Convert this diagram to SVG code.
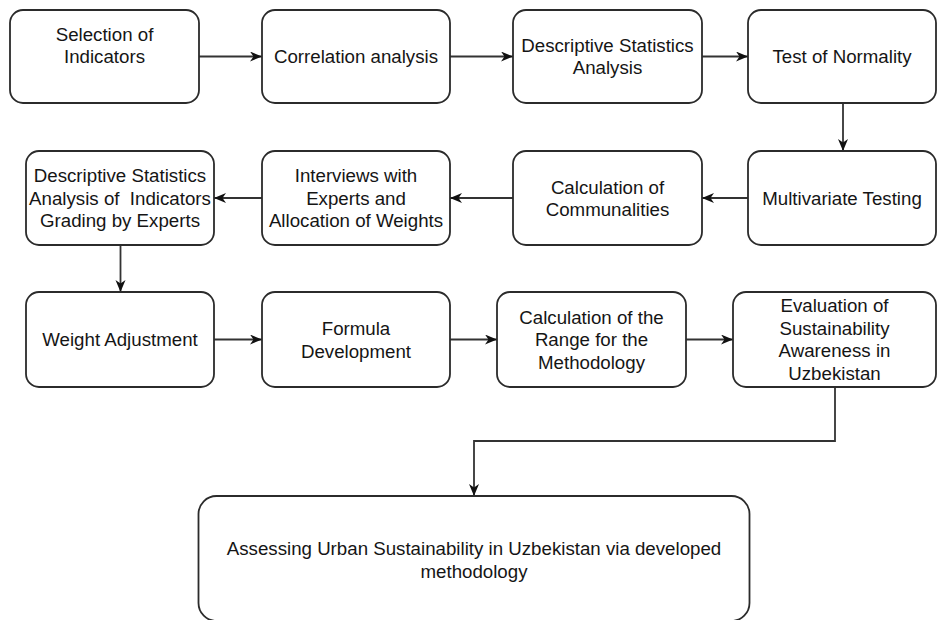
<svg xmlns="http://www.w3.org/2000/svg" width="937" height="620" viewBox="0 0 937 620">
  <defs>
    <marker id="arrow" markerUnits="userSpaceOnUse" markerWidth="14" markerHeight="12" refX="12" refY="5" orient="auto">
      <path d="M0,0 L12,5 L0,10 L3.5,5 z" fill="#111"/>
    </marker>
    <style>
      .box { fill: #ffffff; stroke: #2b2b2b; stroke-width: 1.8; }
      .lbl { font-family: "Liberation Sans", Arial, sans-serif; font-size: 18.7px; fill: #151515; text-anchor: middle; white-space: pre; }
      .edge { fill: none; stroke: #333; stroke-width: 1.8; marker-end: url(#arrow); }
    </style>
  </defs>
  <rect width="937" height="620" fill="#ffffff"/>

  <!-- connectors -->
  <g id="connectors">
    <path class="edge" d="M199,56.5 H262"/>
    <path class="edge" d="M450,56.5 H513"/>
    <path class="edge" d="M702,56.5 H748"/>
    <path class="edge" d="M843,103 V151"/>
    <path class="edge" d="M748,198 H702"/>
    <path class="edge" d="M513,198 H450"/>
    <path class="edge" d="M262,198 H214"/>
    <path class="edge" d="M120.5,245 V292"/>
    <path class="edge" d="M214,339.5 H262"/>
    <path class="edge" d="M450,339.5 H497"/>
    <path class="edge" d="M686,339.5 H733"/>
    <path class="edge" d="M835,387 V441 H474 V496"/>
  </g>

  <!-- row 1 -->
  <g id="selection">
    <rect class="box" x="10" y="10" width="189" height="93" rx="13"/>
    <text class="lbl" x="104.5" y="41">Selection of</text>
    <text class="lbl" x="104.5" y="63.3">Indicators</text>
  </g>
  <g id="correlation">
    <rect class="box" x="262" y="10" width="188" height="93" rx="13"/>
    <text class="lbl" x="356" y="63.2">Correlation analysis</text>
  </g>
  <g id="descriptive">
    <rect class="box" x="513" y="10" width="189" height="93" rx="13"/>
    <text class="lbl" x="607.5" y="51.9">Descriptive Statistics</text>
    <text class="lbl" x="607.5" y="74.4">Analysis</text>
  </g>
  <g id="normality">
    <rect class="box" x="748" y="10" width="188" height="93" rx="13"/>
    <text class="lbl" x="842" y="63.2">Test of Normality</text>
  </g>

  <!-- row 2 -->
  <g id="multivariate">
    <rect class="box" x="748" y="151" width="188" height="94" rx="13"/>
    <text class="lbl" x="842" y="204.7">Multivariate Testing</text>
  </g>
  <g id="communalities">
    <rect class="box" x="513" y="151" width="189" height="94" rx="13"/>
    <text class="lbl" x="607.5" y="193.5">Calculation of</text>
    <text class="lbl" x="607.5" y="216">Communalities</text>
  </g>
  <g id="interviews">
    <rect class="box" x="262" y="151" width="188" height="94" rx="13"/>
    <text class="lbl" x="356" y="182.2">Interviews with</text>
    <text class="lbl" x="356" y="204.7">Experts and</text>
    <text class="lbl" x="356" y="227.2">Allocation of Weights</text>
  </g>
  <g id="grading">
    <rect class="box" x="26" y="151" width="188" height="94" rx="13"/>
    <text class="lbl" x="120" y="182.2">Descriptive Statistics</text>
    <text class="lbl" x="120" y="204.7">Analysis of  Indicators</text>
    <text class="lbl" x="120" y="227.2">Grading by Experts</text>
  </g>

  <!-- row 3 -->
  <g id="weight">
    <rect class="box" x="26" y="292" width="188" height="95" rx="13"/>
    <text class="lbl" x="120" y="346.2">Weight Adjustment</text>
  </g>
  <g id="formula">
    <rect class="box" x="262" y="292" width="188" height="95" rx="13"/>
    <text class="lbl" x="356" y="335">Formula</text>
    <text class="lbl" x="356" y="357.5">Development</text>
  </g>
  <g id="range">
    <rect class="box" x="497" y="292" width="189" height="95" rx="13"/>
    <text class="lbl" x="591.5" y="323.7">Calculation of the</text>
    <text class="lbl" x="591.5" y="346.2">Range for the</text>
    <text class="lbl" x="591.5" y="368.7">Methodology</text>
  </g>
  <g id="evaluation">
    <rect class="box" x="733" y="292" width="203" height="95" rx="13"/>
    <text class="lbl" x="834.5" y="312.2">Evaluation of</text>
    <text class="lbl" x="834.5" y="334.7">Sustainability</text>
    <text class="lbl" x="834.5" y="357.2">Awareness in</text>
    <text class="lbl" x="834.5" y="379.7">Uzbekistan</text>
  </g>

  <!-- final step -->
  <g id="assessing">
    <rect class="box" x="198.5" y="496" width="551" height="125" rx="18"/>
    <text class="lbl" x="474" y="555">Assessing Urban Sustainability in Uzbekistan via developed</text>
    <text class="lbl" x="474" y="577.5">methodology</text>
  </g>
</svg>
